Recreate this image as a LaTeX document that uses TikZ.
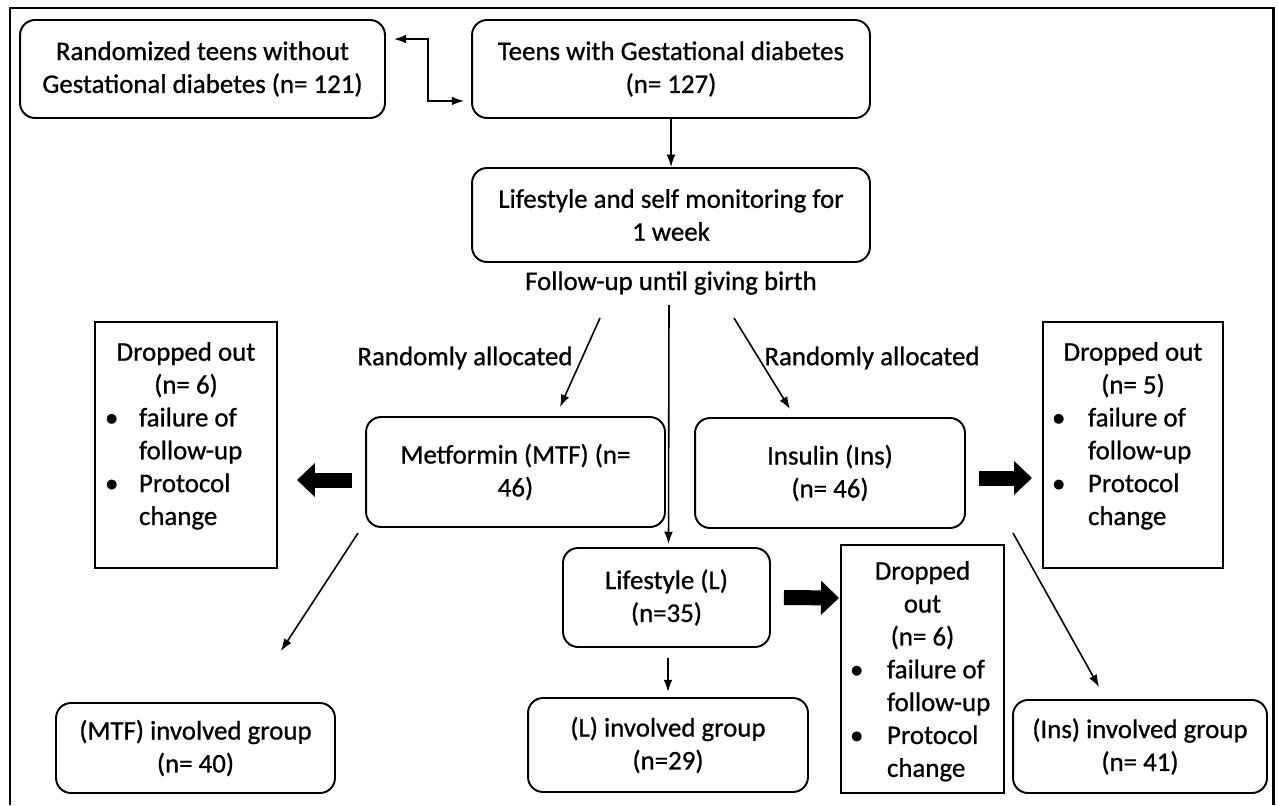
\documentclass[tikz,border=0pt]{standalone}
\usepackage{fontspec}
\setmainfont{Carlito}[FakeBold=0.8]
\usepackage{tikz}
\usetikzlibrary{arrows.meta, positioning, calc}

\begin{document}
\begin{tikzpicture}[x=0.02cm, y=-0.02cm,
    rbox/.style={draw, line width=1.1pt, rounded corners=0.3cm, align=center, inner sep=0pt},
    dbox/.style={draw, line width=1.1pt, inner sep=0pt},
    arr/.style={line width=0.9pt, -{Latex[length=7pt, width=5pt]}},
    fat/.style={line width=0.3cm, -{Triangle[length=0.36cm, width=0.66cm]}},
    font=\fontsize{15.3}{18.7}\selectfont]

  \useasboundingbox (0,0) rectangle (1278,805);
  \draw[line width=1.7pt] (10,805) |- (1273,8) -- (1273,805);

  % top row
  \node[rbox, minimum width=7.3cm, minimum height=1.96cm] (rand) at (202.5,69) {Randomized teens without\\Gestational diabetes (n= 121)};
  \node[rbox, minimum width=7.96cm, minimum height=1.96cm] (gdm) at (671,69) {Teens with Gestational diabetes\\(n= 127)};
  \node[rbox, minimum width=7.96cm, minimum height=1.88cm] (life1w) at (671,215) {Lifestyle and self monitoring for\\1 week};
  \node (follow) at (671,283) {Follow-up until giving birth};

  \draw[line width=0.9pt, {Latex[length=7pt, width=5pt]}-{Latex[length=7pt, width=5pt]}]
    ([shift={(8,20)}]rand.north east) -- ++(34,0) |- ([shift={(-7,-18)}]gdm.south west);
  \draw[arr] (gdm) -- (life1w);

  % allocation
  \node (randL) at (465,358) {Randomly allocated};
  \node (randR) at (872,358) {Randomly allocated};
  \node[rbox, minimum width=5.98cm, minimum height=2.2cm] (mtf) at (515.5,472) {Metformin (MTF) (n=\\46)};
  \node[rbox, minimum width=5.4cm, minimum height=2.2cm] (ins) at (830,473) {Insulin (Ins)\\(n= 46)};
  \node[rbox, minimum width=4.14cm, minimum height=1.98cm] (life) at (666.5,597.5) {Lifestyle (L)\\(n=35)};

  \draw[arr] ([shift={(-71,35)}]follow.center) -- ([shift={(44.5,-9)}]mtf.north);
  \draw[arr] ([shift={(63,35)}]follow.center) -- ([shift={(-40,-8)}]ins.north);
  \draw[arr] ([shift={(-2,22)}]follow.center) -- ([shift={(2,-3)}]life.north);

  % dropped out
  \node[dbox] (dropL) at (186,445) {\parbox[c][4.92cm][t]{3.64cm}{\vspace*{0.4cm}\centering Dropped out\\(n= 6)\par
    \raggedright\hspace*{0.2cm}\begin{tabular}[t]{@{}p{0.68cm}@{}l@{}}\textbullet & failure of\\ & follow-up\\ \textbullet & Protocol\\ & change\end{tabular}}};
  \node[dbox] (dropR) at (1133,445) {\parbox[c][4.92cm][t]{3.6cm}{\vspace*{0.4cm}\centering Dropped out\\(n= 5)\par
    \raggedright\hspace*{0.18cm}\begin{tabular}[t]{@{}p{0.72cm}@{}l@{}}\textbullet & failure of\\ & follow-up\\ \textbullet & Protocol\\ & change\end{tabular}}};
  \node[dbox] (dropM) at (922.5,669) {\parbox[c][4.96cm][t]{3.26cm}{\vspace*{0.32cm}\centering Dropped\\out\\(n= 6)\par
    \raggedright\hspace*{0.18cm}\begin{tabular}[t]{@{}p{0.74cm}@{}l@{}}\textbullet & failure of\\ & follow-up\\ \textbullet & Protocol\\ & change\end{tabular}}};

  \draw[fat] ([shift={(-13,8)}]mtf.west) -- ([shift={(19,35)}]dropL.east);
  \draw[fat] ([shift={(13,5)}]ins.east) -- ([shift={(-10,33)}]dropR.west);
  \draw[fat] ([shift={(13,0)}]life.east) -- ([shift={(-1,-71)}]dropM.west);

  % involved groups
  \node[rbox, minimum width=5.58cm, minimum height=1.8cm] (mtfgrp) at (195.5,748) {(MTF) involved group\\(n= 40)};
  \node[rbox, minimum width=5.6cm, minimum height=1.88cm] (lgrp) at (668,745) {(L) involved group\\(n=29)};
  \node[rbox, minimum width=5.08cm, minimum height=1.86cm] (insgrp) at (1140,746.5) {(Ins) involved group\\(n= 41)};

  \draw[arr] ([shift={(-7,5)}]mtf.south west) -- ([shift={(-55,-51)}]mtfgrp.north east);
  \draw[arr] ([shift={(47,4)}]ins.south east) -- ([shift={(87,-12)}]insgrp.north west);
  \draw[arr] ([shift={(1.5,10)}]life.south) -- ([shift={(0,-5)}]lgrp.north);
\end{tikzpicture}
\end{document}
